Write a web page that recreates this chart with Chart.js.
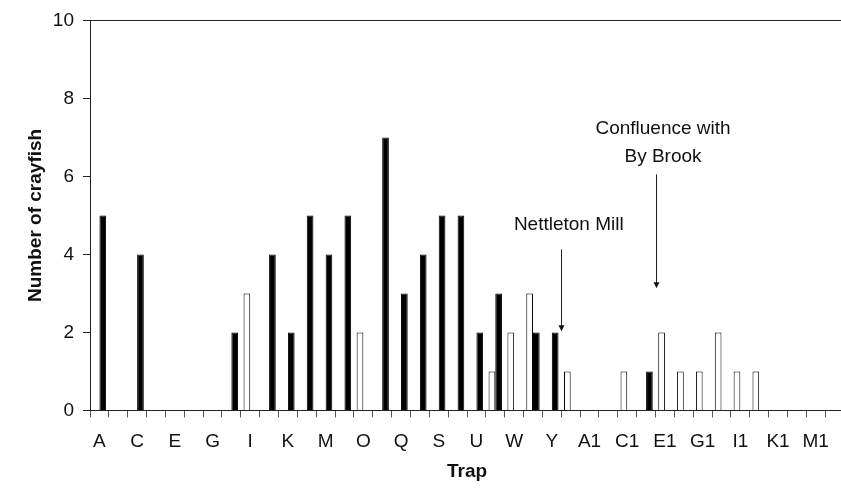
<!DOCTYPE html>
<html>
<head>
<meta charset="utf-8">
<title>Crayfish per trap</title>
<script src="https://cdn.jsdelivr.net/npm/chart.js@4"></script>
<style>
  html, body { margin: 0; padding: 0; background: #fff; overflow: hidden; }
  canvas { display: block; }
</style>
</head>
<body>
<canvas id="myChart" width="848" height="488"></canvas>
<script>
// Traps A..Z, then A1..N1
var traps = ["A","B","C","D","E","F","G","H","I","J","K","L","M","N","O","P","Q","R","S","T","U","V","W","X","Y","Z",
  "A1","B1","C1","D1","E1","F1","G1","H1","I1","J1","K1","L1","M1","N1"];

// white bars (left in each trap)
var openBars = [0,0,0,0,0,0,0,0,3,0,0,0,0,0,2,0,0,0,0,0,0,1,2,3,0,1,0,0,1,0,2,1,1,2,1,1,0,0,0,0];
// black bars (right in each trap)
var solidBars = [5,0,4,0,0,0,0,2,0,4,2,5,4,5,0,7,3,4,5,5,2,3,0,2,2,0,0,0,0,1,0,0,0,0,0,0,0,0,0,0];

var yTicks = [0, 2, 4, 6, 8, 10];

// annotations: text lines, where they sit (trap index / y value), and the arrows
var noteLines = ["Nettleton Mill", "Confluence with", "By Brook"];
var noteLineX = [24.9, 29.9, 29.9];
var noteLineY = [4.77, 7.23, 6.51];
var arrowX = [24.5, 29.5];
var arrowFrom = [4.13, 6.05];
var arrowTo = [2.03, 3.13];

var font = "'Liberation Sans', Arial, sans-serif";

// top frame line + the two labelled arrows
var notesPlugin = {
  id: "notes",
  afterDraw: function (chart) {
    var ctx = chart.ctx;
    var x = chart.scales.x;
    var y = chart.scales.y;
    var area = chart.chartArea;
    ctx.save();
    ctx.strokeStyle = "#222";
    ctx.lineWidth = 1;
    ctx.beginPath();
    ctx.moveTo(area.left, Math.round(area.top) + 0.5);
    ctx.lineTo(area.right, Math.round(area.top) + 0.5);
    ctx.stroke();

    ctx.fillStyle = "#111";
    ctx.font = "19px " + font;
    ctx.textAlign = "center";
    ctx.textBaseline = "middle";
    for (var i = 0; i < noteLines.length; i++) {
      ctx.fillText(noteLines[i], x.getPixelForValue(noteLineX[i]), y.getPixelForValue(noteLineY[i]));
    }

    for (var j = 0; j < arrowX.length; j++) {
      var ax = Math.round(x.getPixelForValue(arrowX[j])) + 0.5;
      var y0 = y.getPixelForValue(arrowFrom[j]);
      var y1 = y.getPixelForValue(arrowTo[j]);
      ctx.strokeStyle = "#222";
      ctx.beginPath();
      ctx.moveTo(ax, y0);
      ctx.lineTo(ax, y1 - 4);
      ctx.stroke();
      ctx.fillStyle = "#111";
      ctx.beginPath();
      ctx.moveTo(ax - 3, y1 - 6);
      ctx.lineTo(ax + 3, y1 - 6);
      ctx.lineTo(ax, y1);
      ctx.closePath();
      ctx.fill();
    }
    ctx.restore();
  }
};

var ctx = document.getElementById("myChart").getContext("2d");

var myChart = new Chart(ctx, {
  type: "bar",
  data: {
    labels: traps,
    datasets: [
      {
        label: "open",
        data: openBars,
        backgroundColor: "#ffffff",
        borderColor: "#000000",
        borderWidth: 1,
        borderSkipped: "start"
      },
      {
        label: "solid",
        data: solidBars,
        backgroundColor: "#000000",
        borderColor: "#000000",
        borderWidth: 1,
        borderSkipped: "start"
      }
    ]
  },
  options: {
    responsive: false,
    animation: false,
    devicePixelRatio: 1,
    layout: { padding: { left: 20, right: 4, top: 18, bottom: 0 } },
    datasets: { bar: { barPercentage: 1, categoryPercentage: 0.71 } },
    plugins: {
      legend: { display: false },
      tooltip: { enabled: false }
    },
    scales: {
      x: {
        offset: true,
        grid: { offset: true, drawOnChartArea: false, drawTicks: true, tickLength: 7, color: "#555" },
        border: { color: "#222", width: 1 },
        ticks: {
          autoSkip: false,
          maxRotation: 0,
          padding: 13,
          color: "#111",
          font: { family: font, size: 19 },
          callback: function (v, i) {
            return i % 2 === 0 ? traps[i] : "";
          }
        },
        title: {
          display: true,
          text: "Trap",
          color: "#111",
          padding: { top: -6, bottom: 5 },
          font: { family: font, size: 19, weight: "bold" }
        }
      },
      y: {
        min: yTicks[0],
        max: yTicks[yTicks.length - 1],
        grid: { drawOnChartArea: false, drawTicks: true, tickLength: 7, color: "#222" },
        border: { color: "#222", width: 1 },
        afterBuildTicks: function (scale) {
          scale.ticks = yTicks.map(function (v) { return { value: v }; });
        },
        afterFit: function (scale) {
          scale.width = 70;
        },
        ticks: {
          padding: 9,
          color: "#111",
          font: { family: font, size: 19 }
        },
        title: {
          display: true,
          text: "Number of crayfish",
          color: "#111",
          padding: { top: 4, bottom: 8 },
          font: { family: font, size: 19, weight: "bold" }
        }
      }
    }
  },
  plugins: [notesPlugin]
});
</script>
</body>
</html>
